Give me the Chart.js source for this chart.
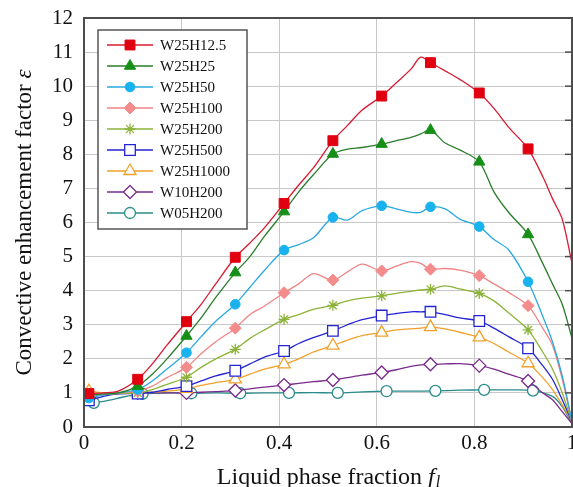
<!DOCTYPE html>
<html>
<head>
<meta charset="utf-8">
<script src="https://cdn.jsdelivr.net/npm/chart.js@4.4.1/dist/chart.umd.min.js"></script>
<style>
  html, body { margin: 0; padding: 0; background: #fff; }
  #wrap { width: 573px; height: 487px; }
</style>
</head>
<body>
<div id="wrap"><canvas id="chart" width="573" height="487"></canvas></div>
<script>
// liquid phase fraction samples (shared by the W25 / W10 runs)
const xs = [0, 0.01, 0.04, 0.07, 0.11, 0.14, 0.17, 0.21, 0.24, 0.27, 0.31, 0.34, 0.37, 0.41, 0.44, 0.47,
  0.51, 0.54, 0.57, 0.61, 0.64, 0.67, 0.69, 0.71, 0.74, 0.77, 0.81, 0.84, 0.87, 0.91, 0.94, 0.96, 0.98, 1.0];
// W05H200 was sampled a bit shifted
const xsTeal = [0, 0.02, 0.05, 0.08, 0.12, 0.15, 0.18, 0.22, 0.27, 0.32, 0.37, 0.42, 0.47, 0.52, 0.57,
  0.62, 0.67, 0.72, 0.77, 0.82, 0.87, 0.92, 0.96, 0.98, 1.0];

// where the symbols sit
const markX = [0.01, 0.11, 0.21, 0.31, 0.41, 0.51, 0.61, 0.71, 0.81, 0.91];
const markXTeal = [0.02, 0.12, 0.22, 0.32, 0.42, 0.52, 0.62, 0.72, 0.82, 0.92];

const labels = ["W25H12.5", "W25H25", "W25H50", "W25H100", "W25H200", "W25H500", "W25H1000", "W10H200", "W05H200"];

const w25h12_5 = [0.98, 0.98, 1.0, 1.05, 1.40, 1.85, 2.4, 3.09, 3.6, 4.2, 4.98, 5.4, 5.85, 6.56, 7.1, 7.6,
  8.40, 8.85, 9.3, 9.71, 10.1, 10.5, 10.85, 10.69, 10.45, 10.2, 9.8, 9.35, 8.8, 8.16, 7.35, 6.7, 6.1, 4.8];
const w25h25 = [0.95, 0.95, 0.97, 1.0, 1.2, 1.55, 2.0, 2.67, 3.2, 3.8, 4.53, 5.0, 5.6, 6.32, 6.9, 7.4,
  8.01, 8.15, 8.2, 8.30, 8.4, 8.5, 8.6, 8.71, 8.33, 8.13, 7.78, 6.9, 6.3, 5.65, 4.8, 4.2, 3.6, 2.6];
const w25h50 = [0.85, 0.85, 0.95, 1.0, 1.1, 1.35, 1.7, 2.18, 2.65, 3.1, 3.6, 4.1, 4.6, 5.19, 5.35, 5.55,
  6.15, 6.07, 6.35, 6.49, 6.4, 6.3, 6.3, 6.46, 6.4, 6.1, 5.88, 5.5, 5.2, 4.26, 3.25, 2.5, 1.5, 0.15];
const w25h100 = [0.95, 0.95, 0.97, 1.0, 1.05, 1.2, 1.45, 1.75, 2.15, 2.5, 2.9, 3.3, 3.55, 3.94, 4.2, 4.5,
  4.31, 4.55, 4.78, 4.58, 4.72, 4.85, 4.8, 4.63, 4.65, 4.6, 4.44, 4.2, 3.95, 3.56, 2.9, 2.4, 1.4, 0.15];
const w25h200 = [0.9, 0.9, 0.95, 0.98, 1.0, 1.1, 1.25, 1.46, 1.75, 2.0, 2.28, 2.6, 2.85, 3.16, 3.3, 3.45,
  3.57, 3.7, 3.78, 3.85, 3.92, 3.98, 4.02, 4.04, 4.14, 4.05, 3.92, 3.7, 3.35, 2.85, 2.2, 1.7, 1.0, 0.15];
const w25h500 = [0.8, 0.78, 0.9, 0.97, 0.98, 1.02, 1.1, 1.2, 1.35, 1.5, 1.65, 1.85, 2.05, 2.23, 2.45, 2.62,
  2.82, 3.0, 3.15, 3.27, 3.33, 3.38, 3.38, 3.38, 3.3, 3.2, 3.11, 2.9, 2.65, 2.31, 1.8, 1.4, 0.8, 0.15];
const w25h1000 = [1.0, 1.05, 1.0, 1.0, 1.0, 1.02, 1.05, 1.12, 1.22, 1.3, 1.40, 1.55, 1.7, 1.84, 2.0, 2.2,
  2.39, 2.55, 2.68, 2.77, 2.85, 2.88, 2.9, 2.93, 2.88, 2.78, 2.63, 2.45, 2.2, 1.87, 1.45, 1.1, 0.65, 0.15];
const w10h200 = [0.85, 0.85, 0.95, 0.98, 1.0, 1.0, 1.0, 1.0, 1.02, 1.04, 1.07, 1.12, 1.17, 1.23, 1.28, 1.33,
  1.38, 1.45, 1.52, 1.6, 1.68, 1.78, 1.82, 1.84, 1.85, 1.86, 1.80, 1.7, 1.55, 1.35, 1.0, 0.8, 0.45, 0.1];
const w05h200 = [0.72, 0.71, 0.78, 0.88, 0.97, 0.99, 1.0, 0.99, 1.0, 0.99, 1.0, 1.0, 1.01, 1.0, 1.03,
  1.05, 1.05, 1.06, 1.08, 1.09, 1.09, 1.07, 0.9, 0.6, 0.1];

const font = "'Liberation Serif', 'Times New Roman', serif";

function pts(xv, yv) {
  return xv.map((x, i) => ({ x: x, y: yv[i] }));
}

function mkSet(label, xv, yv, marks, color, fill, style, r, bw) {
  return {
    label: label,
    data: pts(xv, yv),
    borderColor: color,
    borderWidth: 1.3,
    tension: 0.3,
    pointStyle: style,
    pointBackgroundColor: fill,
    pointBorderColor: style == "star" || fill == "#fff" ? color : fill,
    pointBorderWidth: bw,
    pointRadius: (c) => (c.raw && marks.includes(c.raw.x) ? r : 0),
    pointHoverRadius: 0,
    legendRadius: r,
  };
}

const datasets = [
  mkSet(labels[0], xs, w25h12_5, markX, "#d81a30", "#e0000f", "rect", 7, 1),
  mkSet(labels[1], xs, w25h25, markX, "#2a7d2a", "#158f15", "triangle", 6.5, 1),
  mkSet(labels[2], xs, w25h50, markX, "#2aa8df", "#18b2ef", "circle", 4.8, 1),
  mkSet(labels[3], xs, w25h100, markX, "#ef8484", "#f58c8c", "rectRot", 6, 1),
  mkSet(labels[4], xs, w25h200, markX, "#8cb338", "#8cb338", "star", 5.5, 1.3),
  mkSet(labels[5], xs, w25h500, markX, "#2424d4", "#fff", "rect", 7.5, 1.3),
  mkSet(labels[6], xs, w25h1000, markX, "#f2a02a", "#fff", "triangle", 7, 1.3),
  mkSet(labels[7], xs, w10h200, markX, "#7a2a8c", "#fff", "rectRot", 6.5, 1.3),
  mkSet(labels[8], xsTeal, w05h200, markXTeal, "#2a8c8a", "#fff", "circle", 5.5, 1.3),
];

// frame, axis titles and the boxed legend
const decor = {
  id: "decor",
  afterDatasetsDraw(chart) {
    const ctx = chart.ctx;
    const a = chart.chartArea;
    ctx.save();

    ctx.strokeStyle = "#4d4d4d";
    ctx.lineWidth = 2;
    ctx.strokeRect(a.left, a.top, a.right - a.left, a.bottom - a.top);
    // little inner ticks on the right side
    ctx.lineWidth = 1.5;
    for (let v = 1; v < 12; v++) {
      const y = chart.scales.y.getPixelForValue(v);
      ctx.beginPath();
      ctx.moveTo(a.right - 7, y);
      ctx.lineTo(a.right, y);
      ctx.stroke();
    }

    // y title
    ctx.fillStyle = "#111";
    ctx.textBaseline = "middle";
    const t1 = "Convective enhancement factor ";
    ctx.font = "23px " + font;
    const w1 = ctx.measureText(t1).width;
    ctx.font = "italic 23px " + font;
    const w2 = ctx.measureText("\u03b5").width;
    ctx.translate(25, (a.top + a.bottom) / 2);
    ctx.rotate(-Math.PI / 2);
    ctx.font = "23px " + font;
    ctx.fillText(t1, -(w1 + w2) / 2, 0);
    ctx.font = "italic 23px " + font;
    ctx.fillText("\u03b5", -(w1 + w2) / 2 + w1, 0);
    ctx.setTransform(1, 0, 0, 1, 0, 0);

    // x title
    ctx.textBaseline = "alphabetic";
    const t2 = "Liquid phase fraction ";
    ctx.font = "24px " + font;
    const v1 = ctx.measureText(t2).width;
    ctx.font = "italic 24px " + font;
    const v2 = ctx.measureText("f").width;
    ctx.font = "italic 16px " + font;
    const v3 = ctx.measureText("l").width;
    let x0 = (a.left + a.right) / 2 - (v1 + v2 + v3) / 2;
    const yb = 484;
    ctx.font = "24px " + font;
    ctx.fillText(t2, x0, yb);
    ctx.font = "italic 24px " + font;
    ctx.fillText("f", x0 + v1, yb);
    ctx.font = "italic 16px " + font;
    ctx.fillText("l", x0 + v1 + v2 + 1, yb + 3);

    // legend
    const lx = 98, ly = 30, lw = 149, lh = 199;
    ctx.fillStyle = "#fff";
    ctx.fillRect(lx, ly, lw, lh);
    ctx.strokeStyle = "#555";
    ctx.lineWidth = 1.5;
    ctx.strokeRect(lx, ly, lw, lh);
    chart.data.datasets.forEach((ds, i) => {
      const y = 45 + i * 21;
      ctx.strokeStyle = ds.borderColor;
      ctx.lineWidth = 1.3;
      ctx.beginPath();
      ctx.moveTo(107, y);
      ctx.lineTo(153, y);
      ctx.stroke();
      ctx.fillStyle = ds.pointBackgroundColor;
      ctx.strokeStyle = ds.pointBorderColor;
      ctx.lineWidth = ds.pointBorderWidth;
      Chart.helpers.drawPoint(ctx, {
        pointStyle: ds.pointStyle, radius: ds.legendRadius, rotation: 0, borderWidth: ds.pointBorderWidth
      }, 130, y);
      ctx.fillStyle = "#111";
      ctx.font = "15px " + font;
      ctx.textBaseline = "middle";
      ctx.fillText(ds.label, 160, y + 1);
    });
    ctx.restore();
  }
};

new Chart(document.getElementById("chart"), {
  type: "line",
  data: { datasets: datasets },
  options: {
    responsive: false,
    animation: false,
    devicePixelRatio: 1,
    layout: { padding: { top: 18, right: 1, left: 0, bottom: 0 } },
    plugins: { legend: { display: false }, tooltip: { enabled: false } },
    scales: {
      x: {
        type: "linear",
        min: 0,
        max: 1,
        ticks: {
          stepSize: 0.2, padding: 4, color: "#111", font: { family: font, size: 21 }, maxRotation: 0,
          callback: (v) => String(Number(v.toFixed(1))),
        },
        grid: { color: "#c8c8c8", lineWidth: 1, drawTicks: false },
        border: { display: false },
        afterFit: (s) => { s.height = 60; s.paddingLeft = 0; s.paddingRight = 0; },
      },
      y: {
        min: 0,
        max: 12,
        ticks: { stepSize: 1, padding: 11, color: "#111", font: { family: font, size: 21 } },
        grid: { color: "#c8c8c8", lineWidth: 1, drawTicks: false },
        border: { display: false },
        afterFit: (s) => { s.width = 84; s.paddingTop = 0; s.paddingBottom = 0; },
      },
    },
  },
  plugins: [decor],
});
</script>
</body>
</html>
